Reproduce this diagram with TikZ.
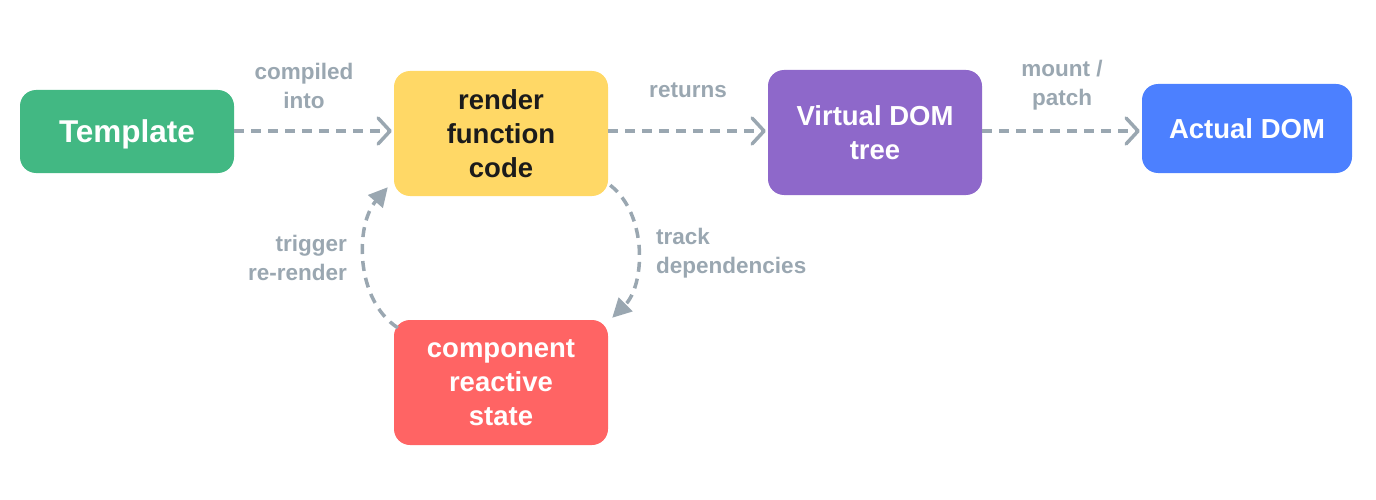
\documentclass[tikz,border=0pt]{standalone}
\usepackage{fontspec}
\setmainfont{Liberation Sans}
\usetikzlibrary{arrows.meta,calc}
\definecolor{cgreen}{HTML}{42B883}
\definecolor{cyellow}{HTML}{FFD866}
\definecolor{cpurple}{HTML}{8E68CA}
\definecolor{cblue}{HTML}{4C80FF}
\definecolor{cred}{HTML}{FF6464}
\definecolor{cgray}{HTML}{9AA7B1}
\definecolor{ctext}{HTML}{1B1B1B}
\tikzset{
  box/.style={rounded corners=16pt, minimum width=214pt, minimum height=125pt, align=center,
    font=\fontsize{27.5}{34}\selectfont\bfseries, inner sep=0pt, text=white},
  lbl/.style={font=\fontsize{22.5}{29.5}\selectfont\bfseries, text=cgray, inner sep=0pt},
  flow/.style={draw=cgray, line width=3.5pt, dash pattern=on 10pt off 7pt,
    -{Straight Barb[length=12pt,width=26pt,line width=3.5pt, round]}},
  loop/.style={draw=cgray, line width=3.5pt, dash pattern=on 10pt off 7pt,
    -{Triangle[length=19pt,width=19pt]}}
}
\begin{document}
\begin{tikzpicture}[x=1pt,y=-1pt]
\useasboundingbox (0,0) rectangle (1376,500);
\node[box, fill=cgreen, minimum height=83pt, text height=22pt, text depth=0pt,
  font=\fontsize{31.5}{34}\selectfont\bfseries] (tpl) at (127,131.5) {Template};
\node[box, fill=cyellow, text=ctext] (rfc) at (501,133.5) {render\\function\\code};
\node[box, fill=cpurple] (vdom) at (875,132.5) {Virtual DOM\\tree};
\node[box, fill=cblue, minimum width=210pt, minimum height=89pt] (adom) at (1247,128.5) {Actual DOM};
\node[box, fill=cred] (crs) at (501,382.5) {component\\reactive\\state};

\draw[flow] (tpl.east |- 0,131) -- ([xshift=-2pt]rfc.west |- 0,131);
\draw[flow] (rfc.east |- 0,131) -- ([xshift=-2pt]vdom.west |- 0,131);
\draw[flow] (vdom.east |- 0,131) -- ([xshift=-2pt]adom.west |- 0,131);

\coordinate (r1) at ($(rfc.south east)+(2,-11)$);
\coordinate (r2) at ($(crs.north east)+(4,-2)$);
\coordinate (l1) at ($(crs.north west)+(4,8)$);
\coordinate (l2) at ($(rfc.south west)+(-6,-9)$);
\draw[loop] (r1) .. controls (648,215) and (645,285) .. (r2);
\draw[loop] (l1) .. controls (355,300) and (355,225) .. (l2);

\node[lbl, align=center] (lc) at (304,86) {compiled\\into};
\node[lbl] (lr) at (688,90) {returns};
\node[lbl, align=center] (lm) at (1062,85) {mount /\\patch};
\node[lbl, align=left, anchor=west] (lt) at (656,253) {track\\dependencies};
\node[lbl, align=right, anchor=east] (lg) at (347,258) {trigger\\re-render};
\end{tikzpicture}
\end{document}
